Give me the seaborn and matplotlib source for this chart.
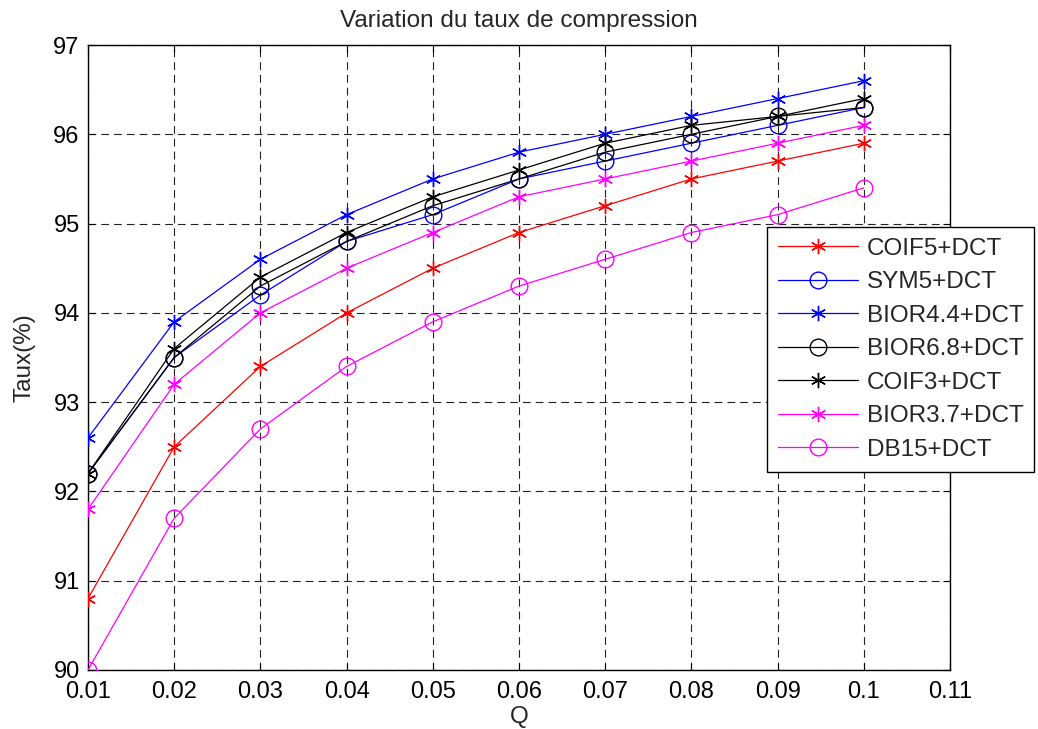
import pandas as pd
import numpy as np
import matplotlib
matplotlib.use("Agg")
import matplotlib.pyplot as plt
import seaborn as sns

# données
q = [0.01, 0.02, 0.03, 0.04, 0.05, 0.06, 0.07, 0.08, 0.09, 0.1]
coif5 = [90.8, 92.5, 93.4, 94.0, 94.5, 94.9, 95.2, 95.5, 95.7, 95.9]
sym5 = [92.2, 93.5, 94.2, 94.8, 95.1, 95.5, 95.7, 95.9, 96.1, 96.3]
bior44 = [92.6, 93.9, 94.6, 95.1, 95.5, 95.8, 96.0, 96.2, 96.4, 96.6]
bior68 = [92.2, 93.5, 94.3, 94.8, 95.2, 95.5, 95.8, 96.0, 96.2, 96.3]
coif3 = [92.2, 93.6, 94.4, 94.9, 95.3, 95.6, 95.9, 96.1, 96.2, 96.4]
bior37 = [91.8, 93.2, 94.0, 94.5, 94.9, 95.3, 95.5, 95.7, 95.9, 96.1]
db15 = [90.0, 91.7, 92.7, 93.4, 93.9, 94.3, 94.6, 94.9, 95.1, 95.4]

labels = ['COIF5+DCT', 'SYM5+DCT', 'BIOR4.4+DCT', 'BIOR6.8+DCT',
          'COIF3+DCT', 'BIOR3.7+DCT', 'DB15+DCT']
series = [coif5, sym5, bior44, bior68, coif3, bior37, db15]
colors = ['#ff0000', '#0000ff', '#0000ff', '#000000', '#000000', '#ff00ff', '#ff00ff']
asterisk = (6, 2, 0)
markers = [asterisk, 'o', asterisk, 'o', asterisk, asterisk, 'o']

sns.set_style("ticks")
plt.rcParams['font.family'] = ['Liberation Sans', 'DejaVu Sans']

fig = plt.figure(figsize=(10.38, 7.29), dpi=100)
ax = fig.add_axes([88/1038, 1 - 670/729, (950 - 88)/1038, (670 - 45)/729])

for lab, vals, c, m in zip(labels, series, colors, markers):
    df = pd.DataFrame({'Q': q, 'Taux': vals})
    ms = 12 if m == 'o' else 11
    sns.lineplot(data=df, x='Q', y='Taux', ax=ax, color=c, marker=m,
                 markersize=ms, markerfacecolor='none', markeredgecolor=c,
                 markeredgewidth=1.0, linewidth=0.9, label=lab, zorder=3)

ax.set_xlim(0.01, 0.11)
ax.set_ylim(90, 97)
ax.set_xticks(np.arange(0.01, 0.111, 0.01))
ax.set_xticklabels(['0.01', '0.02', '0.03', '0.04', '0.05', '0.06',
                    '0.07', '0.08', '0.09', '0.1', '0.11'])
ax.set_yticks(range(90, 98))

ax.grid(True, color='#222222', linestyle=(0, (7, 4.5)), linewidth=0.8)
ax.tick_params(direction='in', length=5, width=0.8, labelsize=17,
               top=True, right=True, pad=6, colors='black')
ax.tick_params(axis='x', pad=8)
for sp in ax.spines.values():
    sp.set_color('black')
    sp.set_linewidth(1.0)

ax.set_title('Variation du taux de compression', fontsize=17.5, pad=13)
ax.set_xlabel('Q', fontsize=17.5, labelpad=2)
ax.set_ylabel('Taux(%)', fontsize=17.5, labelpad=13)

leg = ax.legend(loc='upper left', bbox_to_anchor=(767/1038, 1 - 227/729),
                bbox_transform=fig.transFigure, borderaxespad=0,
                fontsize=17.5, frameon=True, fancybox=False, framealpha=1,
                edgecolor='black', handlelength=3.3, handletextpad=0.35,
                labelspacing=0.47, borderpad=0.45)
leg.get_frame().set_linewidth(1.0)
leg.set_zorder(5)

fig.savefig('out.png', dpi=100, facecolor='white')
